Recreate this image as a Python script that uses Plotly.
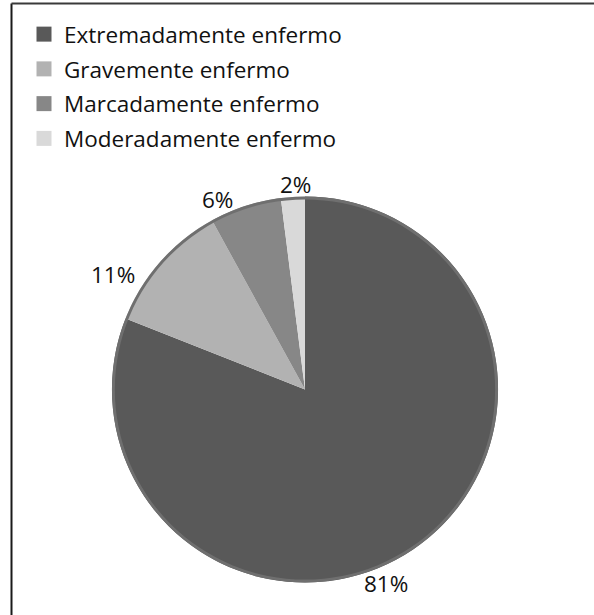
import math
import plotly.graph_objects as go

# Severity categories and their shares (%)
categories = ["Extremadamente enfermo", "Gravemente enfermo",
              "Marcadamente enfermo", "Moderadamente enfermo"]
shares = [81, 11, 6, 2]
colors = ["#595959", "#b2b2b2", "#878787", "#d9d9d9"]

W, H = 594, 615
FONT = "Open Sans"
FSIZE = 22.5
TEXT = "#111111"

# pie placement in page pixels (margins are zero, so paper = page)
cx, cy, r = 305, 389.5, 193
dom_x = [(cx - r) / W, (cx + r) / W]
dom_y = [1 - (cy + r) / H, 1 - (cy - r) / H]

# per-label pixel nudges from the rim point at each slice's mid-angle
label_nudge = [(-27, -34), (-47, -13), (-28, 6), (3, 12)]

fig = go.Figure()
fig.add_trace(go.Pie(
    labels=categories,
    values=shares,
    marker=dict(colors=colors, line=dict(width=0)),
    sort=False,
    direction="clockwise",
    rotation=0,
    textinfo="none",
    showlegend=False,
    domain=dict(x=dom_x, y=dom_y),
    hoverinfo="label+percent",
))
# thin gray rim around the pie
fig.add_trace(go.Pie(
    labels=["rim"],
    values=[sum(shares)],
    hole=0.985,
    marker=dict(colors=["#6f6f6f"], line=dict(width=0)),
    textinfo="none",
    showlegend=False,
    hoverinfo="skip",
    domain=dict(x=dom_x, y=dom_y),
))

# legend entries with square swatches
for i, (name, col) in enumerate(zip(categories, colors)):
    fig.add_trace(go.Scatter(
        x=[None], y=[None], mode="markers", name=name,
        legendgroup=f"g{i}",
        marker=dict(symbol="square", size=15, color=col),
        hoverinfo="skip",
    ))

# percentage labels just outside each slice
total = sum(shares)
start = 0.0
annotations = []
for v, (dx, dy) in zip(shares, label_nudge):
    mid = (start + v / 2) / total * 2 * math.pi
    start += v
    px = cx + r * math.sin(mid)
    py = cy - r * math.cos(mid)
    annotations.append(dict(
        x=px / W, y=1 - py / H, xref="paper", yref="paper",
        text=f"{round(v / total * 100)}%", showarrow=False,
        xanchor="center", yanchor="middle", xshift=dx, yshift=dy,
        font=dict(family=FONT, size=FSIZE, color=TEXT),
    ))

fig.update_layout(
    width=W, height=H,
    margin=dict(l=0, r=0, t=0, b=0),
    paper_bgcolor="white",
    plot_bgcolor="white",
    font=dict(family=FONT, size=FSIZE, color=TEXT),
    xaxis=dict(visible=False),
    yaxis=dict(visible=False),
    legend=dict(
        x=24 / W, y=1 - 13 / H, xanchor="left", yanchor="top",
        font=dict(family=FONT, size=FSIZE, color=TEXT),
        tracegroupgap=2.5,
        itemclick=False,
    ),
    annotations=annotations,
    shapes=[
        dict(type="line", xref="paper", yref="paper",
             x0=11.5 / W, x1=11.5 / W, y0=0, y1=1 - 3.5 / H,
             line=dict(color="#1a1a1a", width=2)),
        dict(type="line", xref="paper", yref="paper",
             x0=11.5 / W, x1=1, y0=1 - 3.5 / H, y1=1 - 3.5 / H,
             line=dict(color="#3a3a3a", width=2)),
    ],
)

fig.write_html("out.html")
